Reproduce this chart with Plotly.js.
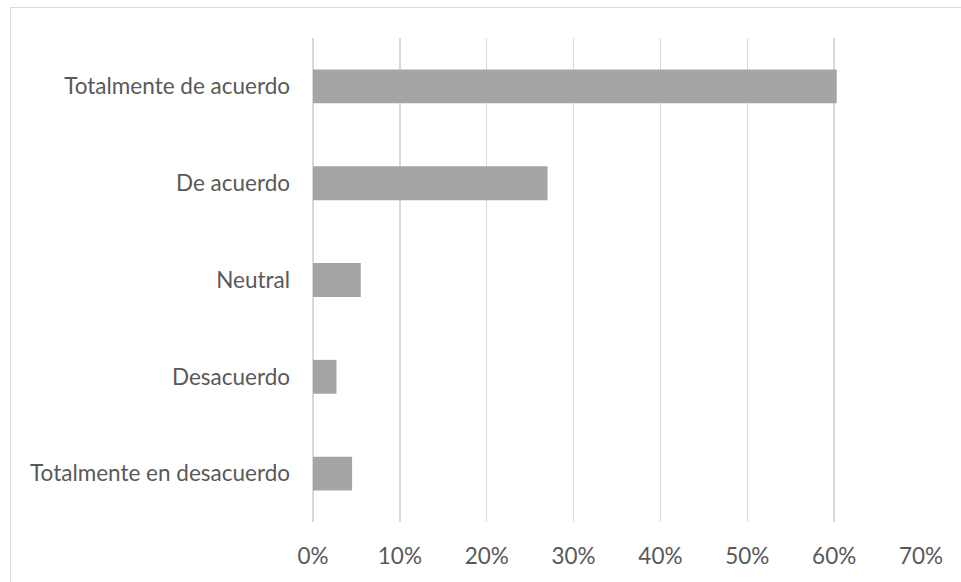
<!DOCTYPE html>
<html>
<head>
<meta charset="utf-8">
<script src="https://cdn.plot.ly/plotly-3.0.1.min.js"></script>
<style>
  html, body { margin: 0; padding: 0; background: #ffffff; }
  #wrap { position: relative; width: 961px; height: 582px; overflow: hidden; }
  #chart { position: absolute; left: 0; top: 0; width: 961px; height: 582px; }
  #frame { position: absolute; left: 10px; top: 7px; width: 980px; height: 600px;
           border: 1.5px solid #d9d9d9; pointer-events: none; box-sizing: border-box; }
</style>
</head>
<body>
<div id="wrap">
  <div id="chart"></div>
  <div id="frame"></div>
</div>
<script>
const categories = [
  "Totalmente de acuerdo",
  "De acuerdo",
  "Neutral",
  "Desacuerdo",
  "Totalmente en desacuerdo"
];
const values = [0.603, 0.27, 0.055, 0.027, 0.045];
const xTickValues = [0, 0.1, 0.2, 0.3, 0.4, 0.5, 0.6, 0.7];

const trace = {
  type: "bar",
  orientation: "h",
  y: categories,
  x: values,
  marker: { color: "#a5a5a5", line: { width: 0 } },
  hoverinfo: "x+y"
};

const layout = {
  width: 961,
  height: 582,
  margin: { l: 313, r: 40, t: 38, b: 60, pad: 0 },
  paper_bgcolor: "#ffffff",
  plot_bgcolor: "#ffffff",
  showlegend: false,
  bargap: 0.65,
  font: { family: "Lato, 'Open Sans', sans-serif", size: 22.5, color: "#595959" },
  xaxis: {
    range: [0, 0.7],
    tickvals: xTickValues,
    tickformat: ".0%",
    showgrid: true,
    gridcolor: "#d9d9d9",
    gridwidth: 1.5,
    zeroline: true,
    zerolinecolor: "#d9d9d9",
    zerolinewidth: 1.5,
    showline: false,
    ticks: "",
    ticklabelstandoff: 18,
    fixedrange: true
  },
  yaxis: {
    type: "category",
    autorange: "reversed",
    showgrid: false,
    zeroline: false,
    showline: false,
    ticks: "",
    ticklabelstandoff: 22,
    fixedrange: true
  }
};

Plotly.newPlot("chart", [trace], layout, { displayModeBar: false, staticPlot: true });
</script>
</body>
</html>
